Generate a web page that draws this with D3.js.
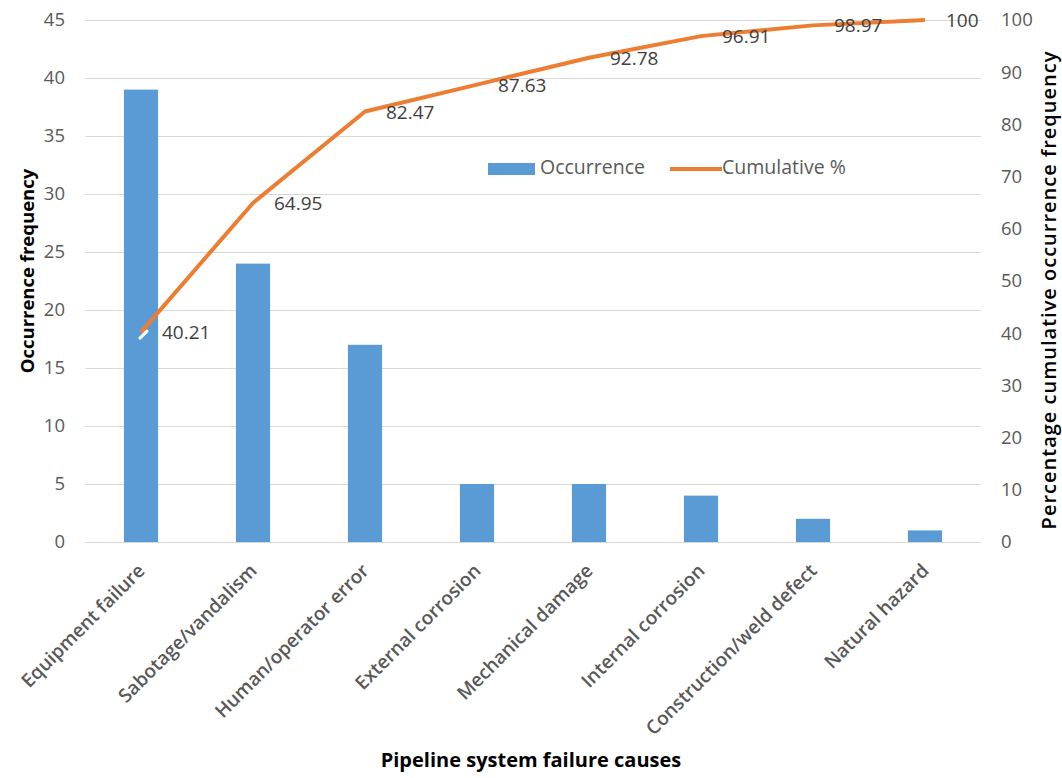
<!DOCTYPE html>
<html>
<head>
<meta charset="utf-8">
<script src="https://cdn.jsdelivr.net/npm/d3@7"></script>
<style>
  html, body { margin: 0; padding: 0; background: #fff; }
  svg { display: block; font-family: "Open Sans", sans-serif; }
</style>
</head>
<body>
<svg id="chart" width="1062" height="778"></svg>
<script>
// Failure causes and number of occurrences
const causes = [
  "Equipment failure", "Sabotage/vandalism", "Human/operator error",
  "External corrosion", "Mechanical damage", "Internal corrosion",
  "Construction/weld defect", "Natural hazard"
];
const occurrences = [39, 24, 17, 5, 5, 4, 2, 1];
// Cumulative share of all occurrences, in percent
const cumulativePct = [40.21, 64.95, 82.47, 87.63, 92.78, 96.91, 98.97, 100];
const leftTicks = [0, 5, 10, 15, 20, 25, 30, 35, 40, 45];
const rightTicks = [0, 10, 20, 30, 40, 50, 60, 70, 80, 90, 100];

const svg = d3.select("#chart");
const plot = { left: 85, right: 981, top: 20, bottom: 542 };
const FONT = "'Open Sans', sans-serif";

const x = d3.scaleBand().domain(causes).range([plot.left, plot.right]).paddingInner(0.695).paddingOuter(0.3475);
const yL = d3.scaleLinear().domain([0, 45]).range([plot.bottom, plot.top]);
const yR = d3.scaleLinear().domain([0, 100]).range([plot.bottom, plot.top]);
const cx = d => x(d) + x.bandwidth() / 2;

// horizontal gridlines
svg.append("g")
  .attr("transform", `translate(${plot.left},0)`)
  .call(d3.axisLeft(yL).tickValues(leftTicks).tickSize(-(plot.right - plot.left)).tickFormat(""))
  .call(g => g.select(".domain").remove())
  .call(g => g.selectAll("line").attr("stroke", "#d9d9d9").attr("stroke-width", 1));

// left axis labels
svg.append("g")
  .attr("transform", `translate(${plot.left},0)`)
  .call(d3.axisLeft(yL).tickValues(leftTicks).tickSize(0).tickPadding(20))
  .call(g => g.select(".domain").remove())
  .call(g => g.selectAll("text").attr("fill", "#595959").style("font-size", "18.5px").style("font-family", FONT));

// right axis labels
svg.append("g")
  .attr("transform", `translate(${plot.right},0)`)
  .call(d3.axisRight(yR).tickValues(rightTicks).tickSize(0).tickPadding(20))
  .call(g => g.select(".domain").remove())
  .call(g => g.selectAll("text").attr("fill", "#595959").style("font-size", "18.5px").style("font-family", FONT));

// bars
svg.append("g").selectAll("rect")
  .data(causes)
  .join("rect")
  .attr("x", d => x(d))
  .attr("width", x.bandwidth())
  .attr("y", (d, i) => yL(occurrences[i]))
  .attr("height", (d, i) => yL(0) - yL(occurrences[i]))
  .attr("fill", "#5b9bd5");

// cumulative line
const line = d3.line().x((d, i) => cx(causes[i])).y(d => yR(d));
svg.append("path")
  .datum(cumulativePct)
  .attr("d", line)
  .attr("fill", "none")
  .attr("stroke", "#ed7d31")
  .attr("stroke-width", 4)
  .attr("stroke-linejoin", "round");

// short white leader under the first cumulative point
const p0 = { x: cx(causes[0]), y: yR(cumulativePct[0]) };
svg.append("line")
  .attr("x1", p0.x - 1).attr("y1", p0.y + 6)
  .attr("x2", p0.x + 6).attr("y2", p0.y - 1)
  .attr("stroke", "#fff").attr("stroke-width", 3).attr("stroke-linecap", "round");

// cumulative value labels
svg.append("g").selectAll("text")
  .data(cumulativePct)
  .join("text")
  .attr("x", (d, i) => cx(causes[i]) + 21)
  .attr("y", d => yR(d) + 2)
  .attr("dominant-baseline", "middle")
  .attr("fill", "#404040")
  .style("font-size", "19px")
  .text(d => d);

// category labels, rotated
svg.append("g").selectAll("text")
  .data(causes)
  .join("text")
  .attr("transform", d => `translate(${cx(d) + 5},${plot.bottom + 30}) rotate(-45)`)
  .attr("text-anchor", "end")
  .attr("fill", "#595959")
  .style("font-size", "19px")
  .style("font-weight", "600")
  .text(d => d);

// axis titles
svg.append("text")
  .attr("transform", `translate(34,271) rotate(-90)`)
  .attr("text-anchor", "middle")
  .attr("fill", "#000")
  .style("font-size", "18.5px")
  .style("font-weight", "700")
  .text("Occurrence frequency");

svg.append("text")
  .attr("transform", `translate(1056,290) rotate(-90)`)
  .attr("text-anchor", "middle")
  .attr("fill", "#000")
  .style("font-size", "20px")
  .style("font-weight", "600")
  .style("letter-spacing", "1px")
  .text("Percentage cumulative occurrence frequency");

svg.append("text")
  .attr("x", 531)
  .attr("y", 767)
  .attr("text-anchor", "middle")
  .attr("fill", "#000")
  .style("font-size", "20px")
  .style("font-weight", "700")
  .text("Pipeline system failure causes");

// legend
const legend = svg.append("g").attr("transform", "translate(488,169)");
legend.append("rect").attr("x", 0).attr("y", -6).attr("width", 47).attr("height", 12).attr("fill", "#5b9bd5");
legend.append("text").attr("x", 52).attr("y", 0).attr("dominant-baseline", "middle")
  .attr("fill", "#595959").style("font-size", "19.5px").text("Occurrence");
legend.append("line").attr("x1", 182).attr("x2", 234).attr("y1", 0).attr("y2", 0)
  .attr("stroke", "#ed7d31").attr("stroke-width", 4);
legend.append("text").attr("x", 234).attr("y", 0).attr("dominant-baseline", "middle")
  .attr("fill", "#595959").style("font-size", "19.5px").text("Cumulative %");
</script>
</body>
</html>
